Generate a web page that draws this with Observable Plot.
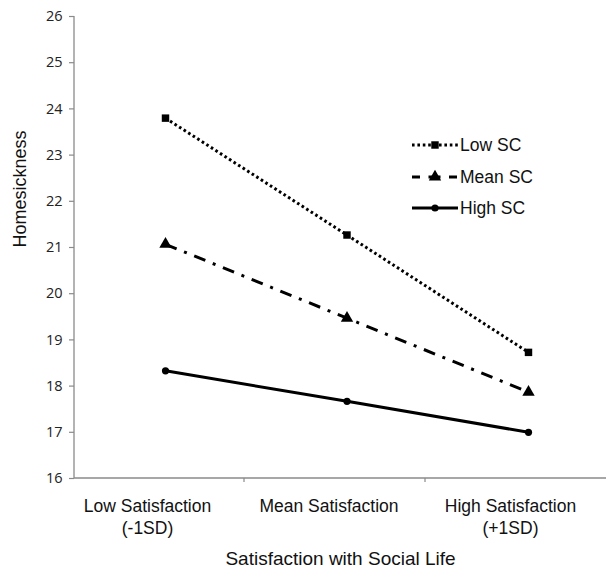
<!DOCTYPE html>
<html>
<head>
<meta charset="utf-8">
<script src="https://cdn.jsdelivr.net/npm/d3@7"></script>
<script src="https://cdn.jsdelivr.net/npm/@observablehq/plot@0.6"></script>
<style>
  html, body { margin: 0; padding: 0; background: #fff; }
  #wrap { position: relative; width: 606px; height: 571px; }
  #legend { position: absolute; left: 0; top: 0; }
</style>
</head>
<body>
<div id="wrap"></div>
<script>
// ---- data ----
const categories = ["Low Satisfaction\n(-1SD)", "Mean Satisfaction", "High Satisfaction\n(+1SD)"];
const seriesNames = ["Low SC", "Mean SC", "High SC"];
const lowSC  = [23.80, 21.27, 18.73];
const meanSC = [21.07, 19.47, 17.87];
const highSC = [18.33, 17.67, 17.00];
const yTicks = [16, 17, 18, 19, 20, 21, 22, 23, 24, 25, 26];
const yTitle = "Homesickness";
const xTitle = "Satisfaction with Social Life";

const seriesValues = [lowSC, meanSC, highSC];
const rows = seriesNames.flatMap((s, si) => seriesValues[si].map((v, i) => ({series: s, xi: i, value: v})));

const styles = {
  "Low SC":  {dash: "2.6 2.8", width: 3, symbol: "square", r: 4.2},
  "Mean SC": {dash: "12 8 3 8", width: 3, symbol: "triangle", r: 4.6},
  "High SC": {dash: null, width: 3, symbol: "circle", r: 3.6}
};

const axisColor = "#8a8a8a";
const sans = "'Liberation Sans', Arial, sans-serif";
const lineMarks = seriesNames.map(s => Plot.line(rows.filter(d => d.series === s), {
  x: "xi", y: "value", stroke: "#000", strokeWidth: styles[s].width,
  strokeDasharray: styles[s].dash ?? undefined, strokeLinecap: "butt"
}));
const dotMarks = seriesNames.map(s => Plot.dot(rows.filter(d => d.series === s), {
  x: "xi", y: "value", fill: "#000", stroke: null, symbol: () => styles[s].symbol, r: styles[s].r
}));

const chart = Plot.plot({
  width: 606,
  height: 571,
  marginTop: 16,
  marginLeft: 74,
  marginRight: 0,
  marginBottom: 93,
  style: {fontFamily: sans, color: "#111", background: "#fff"},
  x: {type: "linear", domain: [0, 2], range: [165, 528]},
  y: {domain: [16, 26]},
  symbol: {type: "identity"},
  marks: [
    Plot.axisY({
      ticks: yTicks, tickSize: 5, tickPadding: 7, stroke: axisColor, strokeWidth: 1.2,
      fontFamily: "'Open Sans', sans-serif", fontSize: 14.5, fill: "#222", label: null
    }),
    Plot.axisX({
      ticks: [0, 1, 2], tickSize: 0, tickPadding: 17, dx: -18,
      tickFormat: i => categories[i], fontSize: 17.5, lineHeight: 1.3, fill: "#111", label: null
    }),
    Plot.text([yTitle], {frameAnchor: "left", rotate: -90, dx: -54, fontSize: 18, fill: "#111", text: d => d}),
    Plot.text([xTitle], {frameAnchor: "bottom", lineAnchor: "middle", dy: 80, fontSize: 19, fill: "#111", text: d => d}),
    ...lineMarks,
    ...dotMarks
  ]
});
document.getElementById("wrap").appendChild(chart);

// axis lines + legend overlay (positions derived from the chart's scales)
const xs = chart.scale("x"), ys = chart.scale("y");
const axLeft = 74, axRight = 606;
const axTop = ys.apply(26), axBottom = ys.apply(16);
const svg = d3.select("#wrap").append("svg").attr("id", "legend").attr("width", 606).attr("height", 571);
svg.append("line").attr("x1", axLeft).attr("x2", axLeft).attr("y1", axTop).attr("y2", axBottom)
  .attr("stroke", axisColor).attr("stroke-width", 1.3);
svg.append("line").attr("x1", axLeft).attr("x2", axRight).attr("y1", axBottom).attr("y2", axBottom)
  .attr("stroke", axisColor).attr("stroke-width", 1.3);
[0.5, 1.5].forEach(v => {
  const px = Math.round(xs.apply(v)) - 12;
  svg.append("line").attr("x1", px).attr("x2", px).attr("y1", axBottom).attr("y2", axBottom + 4)
    .attr("stroke", axisColor).attr("stroke-width", 1.2);
});

const legendRows = [145, 177, 208];
const symGen = {square: d3.symbolSquare, triangle: d3.symbolTriangle, circle: d3.symbolCircle};
seriesNames.forEach((s, i) => {
  const g = svg.append("g").attr("transform", `translate(0,${legendRows[i]})`);
  g.append("line").attr("x1", 412).attr("x2", 458).attr("y1", 0).attr("y2", 0)
    .attr("stroke", "#000").attr("stroke-width", 3)
    .attr("stroke-dasharray", s === "Mean SC" ? "8 8.5 12 8.5 8" : (styles[s].dash || null));
  const area = Math.PI * styles[s].r * styles[s].r;
  g.append("path").attr("transform", "translate(435,0)")
    .attr("d", d3.symbol(symGen[styles[s].symbol], area)()).attr("fill", "#000");
  g.append("text").attr("x", 460).attr("y", 0).attr("dy", "0.35em")
    .attr("font-family", sans).attr("font-size", 17.5).attr("fill", "#111")
    .text(s);
});
</script>
</body>
</html>
